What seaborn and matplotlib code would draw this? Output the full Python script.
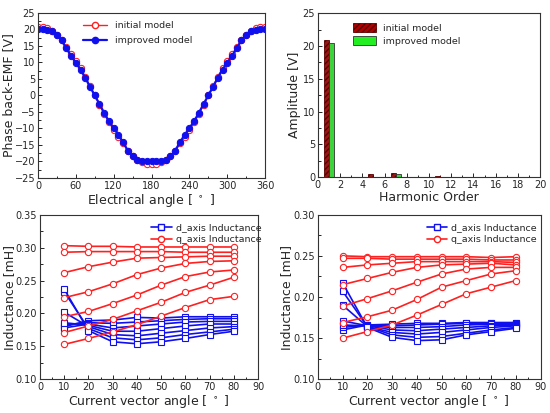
import seaborn as sns
import matplotlib.pyplot as plt
import pandas as pd
from matplotlib.patches import Patch
from matplotlib.lines import Line2D
from matplotlib.ticker import MultipleLocator

# back-EMF waveform (every 7.5 electrical degrees)
angle = [i * 7.5 for i in range(49)]
emf_initial = [20.8, 20.7, 20.3, 19.6, 18.3, 16.9, 14.5, 12.5, 10.4, 8.2, 5.6, 2.8, 0.0,
               -2.8, -5.6, -8.2, -10.4, -12.5, -14.5, -16.9, -18.3, -19.6, -20.3, -20.7, -20.8,
               -20.7, -20.3, -19.6, -18.3, -16.9, -14.5, -12.5, -10.4, -8.2, -5.6, -2.8, 0.0,
               2.8, 5.6, 8.2, 10.4, 12.5, 14.5, 16.9, 18.3, 19.6, 20.3, 20.7, 20.8]
emf_improved = [20.0, 20.0, 19.9, 19.4, 18.4, 16.7, 14.2, 12.0, 9.9, 7.8, 5.3, 2.6, 0.0,
                -2.6, -5.3, -7.8, -9.9, -12.0, -14.2, -16.7, -18.4, -19.4, -19.9, -20.0, -20.0,
                -20.0, -19.9, -19.4, -18.4, -16.7, -14.2, -12.0, -9.9, -7.8, -5.3, -2.6, 0.0,
                2.6, 5.3, 7.8, 9.9, 12.0, 14.2, 16.7, 18.4, 19.4, 19.9, 20.0, 20.0]

# harmonic spectrum
harm_order = list(range(1, 21))
harm_initial = [20.9, 0, 0, 0, 0.45, 0, 0.65, 0, 0, 0, 0.15, 0, 0.03, 0, 0, 0, 0, 0, 0, 0]
harm_improved = [20.4, 0, 0, 0, 0.03, 0, 0.55, 0, 0, 0, 0.05, 0, 0, 0, 0, 0, 0, 0, 0, 0]

# inductance vs current vector angle
cv_angle = [10, 20, 30, 40, 50, 60, 70, 80]

ld_initial = [
    [0.180, 0.189, 0.190, 0.194, 0.193, 0.195, 0.195, 0.195],
    [0.183, 0.186, 0.185, 0.187, 0.189, 0.191, 0.192, 0.192],
    [0.178, 0.184, 0.178, 0.181, 0.184, 0.187, 0.188, 0.188],
    [0.186, 0.182, 0.173, 0.173, 0.177, 0.181, 0.184, 0.184],
    [0.202, 0.180, 0.168, 0.166, 0.170, 0.174, 0.178, 0.180],
    [0.233, 0.177, 0.163, 0.160, 0.163, 0.168, 0.172, 0.176],
    [0.237, 0.174, 0.157, 0.154, 0.157, 0.162, 0.168, 0.173],
]
lq_initial = [
    [0.303, 0.302, 0.302, 0.301, 0.301, 0.301, 0.301, 0.301],
    [0.293, 0.294, 0.294, 0.294, 0.294, 0.293, 0.293, 0.293],
    [0.262, 0.271, 0.278, 0.284, 0.285, 0.286, 0.287, 0.287],
    [0.224, 0.233, 0.245, 0.259, 0.269, 0.276, 0.279, 0.280],
    [0.195, 0.203, 0.215, 0.228, 0.243, 0.256, 0.263, 0.266],
    [0.171, 0.181, 0.191, 0.204, 0.217, 0.232, 0.243, 0.255],
    [0.153, 0.162, 0.172, 0.183, 0.196, 0.209, 0.221, 0.226],
]
ld_improved = [
    [0.160, 0.166, 0.167, 0.168, 0.168, 0.169, 0.169, 0.169],
    [0.163, 0.166, 0.165, 0.166, 0.167, 0.168, 0.168, 0.168],
    [0.166, 0.165, 0.163, 0.163, 0.164, 0.166, 0.167, 0.167],
    [0.171, 0.165, 0.160, 0.159, 0.161, 0.163, 0.165, 0.166],
    [0.190, 0.164, 0.157, 0.155, 0.157, 0.160, 0.163, 0.165],
    [0.207, 0.164, 0.154, 0.151, 0.152, 0.156, 0.160, 0.163],
    [0.217, 0.163, 0.151, 0.147, 0.148, 0.154, 0.158, 0.162],
]
lq_improved = [
    [0.250, 0.249, 0.249, 0.249, 0.249, 0.249, 0.248, 0.249],
    [0.247, 0.247, 0.246, 0.246, 0.246, 0.246, 0.245, 0.245],
    [0.236, 0.239, 0.241, 0.243, 0.243, 0.243, 0.243, 0.242],
    [0.215, 0.2225, 0.230, 0.236, 0.239, 0.240, 0.241, 0.239],
    [0.189, 0.198, 0.2075, 0.218, 0.228, 0.234, 0.236, 0.236],
    [0.169, 0.176, 0.184, 0.197, 0.212, 0.220, 0.228, 0.232],
    [0.150, 0.158, 0.166, 0.178, 0.191, 0.204, 0.212, 0.220],
]

sns.set_style('ticks')
plt.rcParams['font.family'] = ['DejaVu Sans']
plt.rcParams['xtick.direction'] = 'in'
plt.rcParams['ytick.direction'] = 'in'

RED = '#ff2020'
BLUE = '#1010ee'
LABEL_FS = 9
TICK_FS = 7
LEG_FS = 6.8


def to_long(curves):
    rows = []
    for k, c in enumerate(curves):
        for a, v in zip(cv_angle, c):
            rows.append({'curve': k, 'angle': a, 'L': v})
    return pd.DataFrame(rows)


def style_axes(ax):
    for s in ax.spines.values():
        s.set_linewidth(0.8)
        s.set_color('#333333')
    ax.tick_params(which='both', labelsize=TICK_FS, length=3, width=0.7, pad=2)
    ax.tick_params(which='minor', length=1.8)


fig = plt.figure(figsize=(5.5, 4.13), dpi=100)
ax1 = fig.add_axes([0.069, 0.569, 0.413, 0.400])
ax2 = fig.add_axes([0.578, 0.571, 0.404, 0.397])
ax3 = fig.add_axes([0.0727, 0.0816, 0.3964, 0.3985])
ax4 = fig.add_axes([0.578, 0.0816, 0.405, 0.3985])

# back-EMF
sns.lineplot(x=angle, y=emf_initial, ax=ax1, color=RED, lw=1.0, marker='o', markersize=4.5,
             markerfacecolor='white', markeredgecolor=RED, markeredgewidth=0.8)
sns.lineplot(x=angle, y=emf_improved, ax=ax1, color=BLUE, lw=1.6, marker='o', markersize=4.5,
             markerfacecolor=BLUE, markeredgecolor=BLUE)
ax1.set_xlim(0, 360)
ax1.set_ylim(-25, 25)
ax1.xaxis.set_major_locator(MultipleLocator(60))
ax1.xaxis.set_minor_locator(MultipleLocator(30))
ax1.yaxis.set_major_locator(MultipleLocator(5))
ax1.yaxis.set_minor_locator(MultipleLocator(2.5))
ax1.set_xlabel('Electrical angle [ $^\\circ$ ]', fontsize=LABEL_FS, labelpad=1)
ax1.set_ylabel('Phase back-EMF [V]', fontsize=LABEL_FS, labelpad=0)
h1 = [Line2D([], [], color=RED, lw=1.0, marker='o', markersize=4.5, markerfacecolor='white'),
      Line2D([], [], color=BLUE, lw=1.6, marker='o', markersize=4.5)]
ax1.legend(h1, ['initial model', 'improved model'], loc='upper left', bbox_to_anchor=(0.16, 1.0),
           frameon=False, fontsize=LEG_FS, handlelength=2.6, labelspacing=0.6)
style_axes(ax1)

# harmonics
df_h = pd.DataFrame({
    'order': harm_order * 2,
    'amp': harm_initial + harm_improved,
    'model': ['initial model'] * len(harm_order) + ['improved model'] * len(harm_order),
})
sns.barplot(data=df_h, x='order', y='amp', hue='model', native_scale=True, width=0.9,
            palette=['#b00000', '#22ee22'], edgecolor='#333333', linewidth=0.6,
            legend=False, ax=ax2)
n = len(harm_order)
for p in ax2.patches[:n]:
    p.set_hatch('//////')
    p.set_edgecolor('#5a0000')
ax2.set_xlim(0, 20)
ax2.set_ylim(0, 25)
ax2.xaxis.set_major_locator(MultipleLocator(2))
ax2.xaxis.set_minor_locator(MultipleLocator(1))
ax2.yaxis.set_major_locator(MultipleLocator(5))
ax2.yaxis.set_minor_locator(MultipleLocator(2.5))
ax2.set_xlabel('Harmonic Order', fontsize=LABEL_FS, labelpad=1)
ax2.set_ylabel('Amplitude [V]', fontsize=LABEL_FS, labelpad=1)
h2 = [Patch(facecolor='#b00000', edgecolor='#5a0000', hatch='//////', lw=0.6),
      Patch(facecolor='#22ee22', edgecolor='#333333', lw=0.6)]
ax2.legend(h2, ['initial model', 'improved model'], loc='upper left', bbox_to_anchor=(0.12, 0.99),
           frameon=False, fontsize=LEG_FS, handlelength=2.4, handleheight=1.1, labelspacing=0.3)
style_axes(ax2)


def inductance_panel(ax, ld, lq, ylim, legend_x, label_x):
    sns.lineplot(data=to_long(ld), x='angle', y='L', units='curve', estimator=None, ax=ax,
                 color=BLUE, lw=1.2, marker='s', markersize=4, markerfacecolor='white',
                 markeredgecolor=BLUE, markeredgewidth=0.8)
    sns.lineplot(data=to_long(lq), x='angle', y='L', units='curve', estimator=None, ax=ax,
                 color=RED, lw=1.2, marker='o', markersize=4.5, markerfacecolor='white',
                 markeredgecolor=RED, markeredgewidth=0.8)
    ax.set_xlim(0, 90)
    ax.set_ylim(*ylim)
    ax.xaxis.set_major_locator(MultipleLocator(10))
    ax.xaxis.set_minor_locator(MultipleLocator(5))
    ax.yaxis.set_major_locator(MultipleLocator(0.05))
    ax.yaxis.set_minor_locator(MultipleLocator(0.025))
    ax.yaxis.set_major_formatter(plt.FormatStrFormatter('%.2f'))
    ax.set_xlabel('Current vector angle [ $^\\circ$ ]', fontsize=LABEL_FS, labelpad=1)
    ax.set_ylabel('Inductance [mH]', fontsize=LABEL_FS)
    ax.yaxis.set_label_coords(label_x, 0.5)
    hh = [Line2D([], [], color=BLUE, lw=1.2, marker='s', markersize=4, markerfacecolor='white'),
          Line2D([], [], color=RED, lw=1.2, marker='o', markersize=4.5, markerfacecolor='white')]
    ax.legend(hh, ['d_axis Inductance', 'q_axis Inductance'], loc='upper left',
              bbox_to_anchor=(legend_x, 1.0), frameon=False, fontsize=LEG_FS,
              handlelength=2.2, handletextpad=0.4, labelspacing=0.3)
    style_axes(ax)


inductance_panel(ax3, ld_initial, lq_initial, (0.10, 0.35), 0.47, -0.112)
inductance_panel(ax4, ld_improved, lq_improved, (0.10, 0.30), 0.45, -0.112)

fig.savefig('out.png', dpi=100)
